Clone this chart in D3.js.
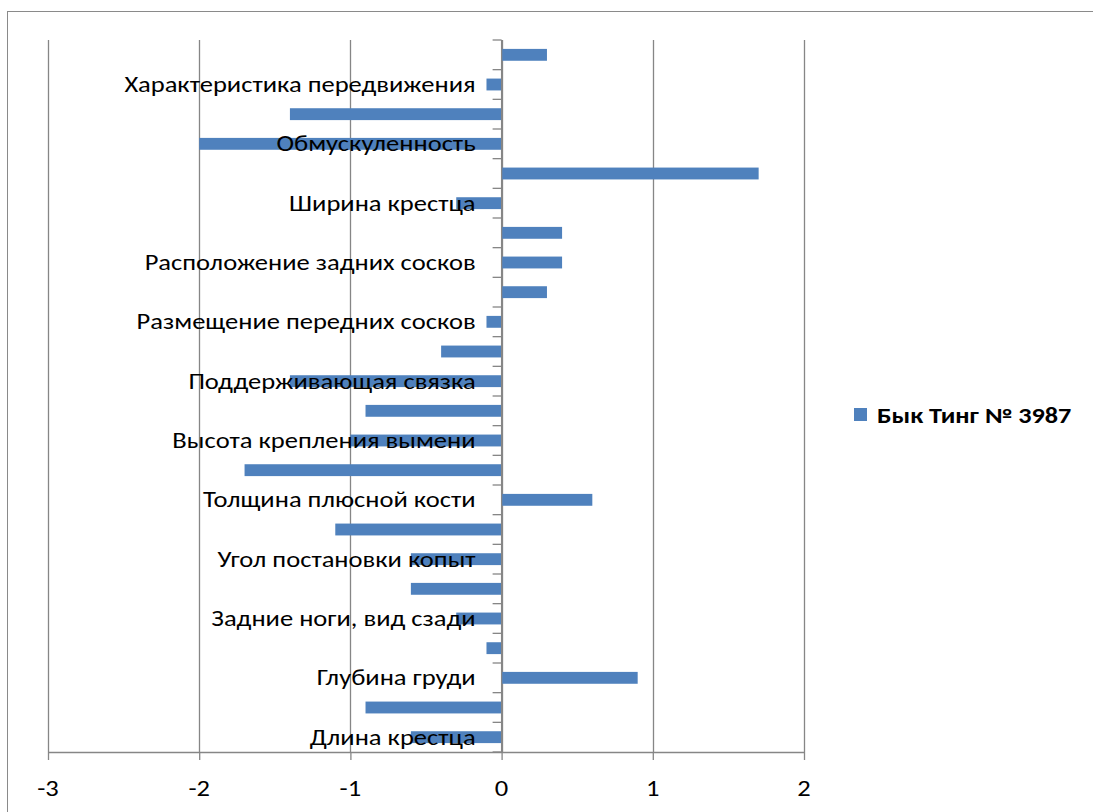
<!DOCTYPE html>
<html><head><meta charset="utf-8">
<script src="https://cdn.jsdelivr.net/npm/d3@7"></script>
<style>body{margin:0;background:#fff}svg{display:block}</style>
</head><body>
<svg id="c" width="1093" height="812"></svg>
<script>
// categories listed bottom -> top (Excel order)
const categories = [
  "Длина крестца","Ширина груди","Глубина груди","Постановка задних ног, вид сбоку",
  "Задние ноги, вид сзади","Качество скакательного сустава","Угол постановки копыт","Крепость телосложения",
  "Толщина плюсной кости","Прикрепление передних долей вымени","Высота крепления вымени","Ширина задней части вымени",
  "Поддерживающая связка","Глубина вымени","Размещение передних сосков","Длина передних сосков",
  "Расположение задних сосков","Положение крестца","Ширина крестца","Угловатость",
  "Обмускуленность","Упитанность","Характеристика передвижения","Рост"
];
const values = [-0.6,-0.9,0.9,-0.1,-0.3,-0.6,-0.6,-1.1,0.6,-1.7,-1.0,-0.9,-1.4,-0.4,-0.1,0.3,0.4,0.4,-0.3,1.7,-2.0,-1.4,-0.1,0.3];
const xTicks = [-3,-2,-1,0,1,2];
const seriesName = "Бык Тинг № 3987";

const svg = d3.select("#c");
const font = "Carlito, Calibri, 'Open Sans', sans-serif";
const FS = 21.5, SX = 1.235;
const L = 48, R = 804, T = 40, B = 752;
const x = d3.scaleLinear().domain([-3,2]).range([L,R]);
const y = d3.scaleBand().domain(categories.slice().reverse()).range([T,B]).paddingInner(0.6).paddingOuter(0.3);
const grid = "#868686";

function label(g, tx, ty, str, anchor, bold, sx){
  return g.append("text")
    .attr("transform",`translate(${tx},${ty}) scale(${sx||SX},1)`)
    .attr("dy","0.35em").attr("text-anchor",anchor)
    .attr("font-family",font).attr("font-size",FS)
    .attr("font-weight",bold?"bold":"normal").attr("fill","#000").text(str);
}

svg.append("rect").attr("x",7.5).attr("y",11.5).attr("width",1200).attr("height",900)
  .attr("fill","none").attr("stroke","#8a8a8a").attr("stroke-width",1);

// gridlines
svg.append("g").selectAll("line").data(xTicks).join("line")
  .attr("x1",d=>Math.round(x(d))+0.5).attr("x2",d=>Math.round(x(d))+0.5)
  .attr("y1",T).attr("y2",B).attr("stroke",grid).attr("stroke-width",1.3);

// bars
svg.append("g").selectAll("rect").data(categories).join("rect")
  .attr("x",(d,i)=>x(Math.min(0,values[i])))
  .attr("width",(d,i)=>Math.abs(x(values[i])-x(0)))
  .attr("y",d=>y(d)).attr("height",y.bandwidth())
  .attr("fill","#4F81BD");

// x axis
const xa = svg.append("g").attr("transform",`translate(0,${B})`)
  .call(d3.axisBottom(x).tickValues(xTicks).tickSize(8).tickSizeOuter(0).tickFormat(d=>String(d)));
xa.select(".domain").attr("stroke",grid).attr("stroke-width",1.3);
xa.selectAll(".tick line").attr("stroke",grid).attr("stroke-width",1.3);
xa.selectAll(".tick text").remove();
const tl = svg.append("g");
xTicks.forEach(t=>label(tl, x(t), 788, String(t), "middle", false));

// category axis at x=0
const x0 = x(0);
svg.append("line").attr("x1",x0).attr("x2",x0).attr("y1",T).attr("y2",B).attr("stroke",grid).attr("stroke-width",1.3);
const bounds = d3.range(categories.length+1).map(i=>T + i*(B-T)/categories.length);
svg.append("g").selectAll("line").data(bounds).join("line")
  .attr("x1",x0-9).attr("x2",x0).attr("y1",d=>d).attr("y2",d=>d)
  .attr("stroke",grid).attr("stroke-width",1.3);

// category labels (every other)
const cl = svg.append("g");
categories.forEach((c,i)=>{ if(i%2===0) label(cl, x0-26, y(c)+y.bandwidth()/2, c, "end", false); });

// legend
const lg = svg.append("g");
lg.append("rect").attr("x",854).attr("y",408).attr("width",13).attr("height",13).attr("fill","#4F81BD");
label(lg, 877, 415, seriesName, "start", true, 1.22);
</script>
</body></html>
